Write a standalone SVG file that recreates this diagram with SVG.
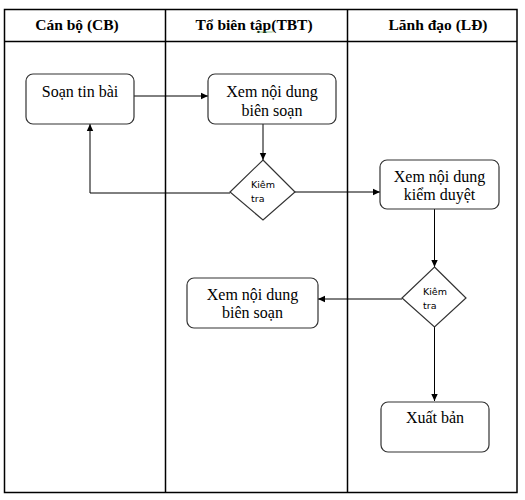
<svg xmlns="http://www.w3.org/2000/svg" width="525" height="500" viewBox="0 0 525 500">
<style>
.grid{fill:none;stroke:#000;stroke-width:1.5}
.hdr{font-family:"Liberation Serif","Times New Roman","DejaVu Serif",serif;font-weight:bold;font-size:15.5px;text-anchor:middle;fill:#000}
.box{fill:#fff;stroke:#333;stroke-width:1.2}
.t{font-family:"Liberation Serif","Times New Roman","DejaVu Serif",serif;font-size:16px;text-anchor:middle;fill:#000}
.d{font-family:"DejaVu Sans",sans-serif;font-size:9.5px;fill:#000}
.c{fill:none;stroke:#000;stroke-width:1}
</style>
<defs>
<marker id="ah" markerWidth="8" markerHeight="8" refX="7" refY="4" orient="auto" markerUnits="userSpaceOnUse">
<path d="M0,0.8 L7,4 L0,7.2 Z" fill="#000"/>
</marker>
</defs>
<rect width="525" height="500" fill="#fff"/>
<g id="table">
<rect class="grid" x="4.5" y="9.5" width="512.5" height="483"/>
<line class="grid" x1="4.5" y1="41.5" x2="517" y2="41.5"/>
<line class="grid" x1="165.5" y1="9.5" x2="165.5" y2="492.5"/>
<line class="grid" x1="347.5" y1="9.5" x2="347.5" y2="492.5"/>
<text class="hdr" x="77" y="30">Cán bộ (CB)</text>
<text class="hdr" x="254" y="30">Tổ biên tập(TBT)</text>
<text class="hdr" x="438" y="30">Lãnh đạo (LĐ)</text>
<path d="M257,32.5 l1,-1 l1,1 l1,-1 l1,1 l1,-1 l1,1 l1,-1 l1,1 l1,-1 l1,1 l1,-1 l1,1 l1,-1 l1,1 l1,-1 l1,1" fill="none" stroke="#4a9a4a" stroke-width="0.7"/>
</g>
<g id="connectors">
<line class="c" x1="134" y1="96" x2="208" y2="96" marker-end="url(#ah)"/>
<line class="c" x1="263" y1="124" x2="263" y2="160" marker-end="url(#ah)"/>
<polyline class="c" points="230,193 90,193 90,124" marker-end="url(#ah)"/>
<line class="c" x1="295" y1="192" x2="380" y2="192" marker-end="url(#ah)"/>
<line class="c" x1="434.5" y1="209" x2="434.5" y2="267" marker-end="url(#ah)"/>
<line class="c" x1="402" y1="299" x2="318" y2="299" marker-end="url(#ah)"/>
<line class="c" x1="434.5" y1="327" x2="434.5" y2="401" marker-end="url(#ah)"/>
</g>
<g id="n1">
<rect class="box" x="26" y="74" width="108" height="50" rx="7"/>
<text class="t" x="80" y="97">Soạn tin bài</text>
</g>
<g id="n2">
<rect class="box" x="208" y="74" width="128" height="50" rx="7"/>
<text class="t" x="272" y="97">Xem nội dung</text>
<text class="t" x="272" y="116">biên soạn</text>
</g>
<g id="n3">
<polygon class="box" points="263,160 295,192 263,220 230,192"/>
<text class="d" x="251" y="188">Kiêm</text>
<text class="d" x="251" y="202">tra</text>
</g>
<g id="n4">
<rect class="box" x="380" y="160" width="119" height="49" rx="7"/>
<text class="t" x="439.5" y="182">Xem nội dung</text>
<text class="t" x="439.5" y="200">kiểm duyệt</text>
</g>
<g id="n5">
<polygon class="box" points="434.5,267 466,298 434.5,327 402,298"/>
<text class="d" x="423" y="295">Kiêm</text>
<text class="d" x="423" y="309">tra</text>
</g>
<g id="n6">
<rect class="box" x="187" y="278" width="131" height="50" rx="7"/>
<text class="t" x="252.5" y="300">Xem nội dung</text>
<text class="t" x="252.5" y="318">biên soạn</text>
</g>
<g id="n7">
<rect class="box" x="381" y="402" width="108" height="50" rx="7"/>
<text class="t" x="435" y="423">Xuất bản</text>
</g>
</svg>
